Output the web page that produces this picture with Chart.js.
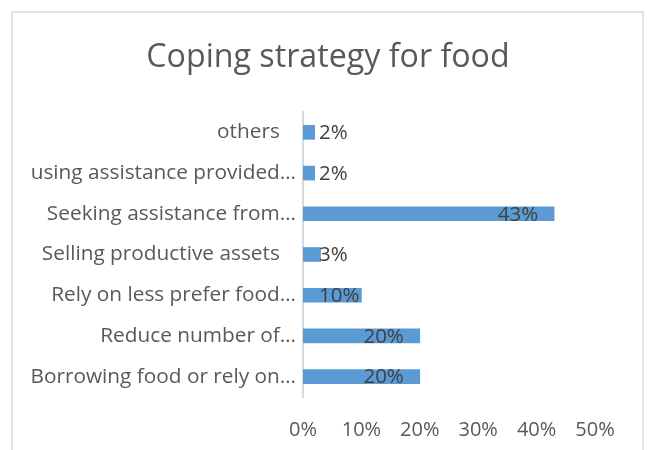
<!DOCTYPE html>
<html>
<head>
<meta charset="utf-8">
<script src="https://cdn.jsdelivr.net/npm/chart.js@4/dist/chart.umd.min.js"></script>
<style>
  html, body { margin: 0; padding: 0; background: #fff; }
  #wrap { width: 647px; height: 450px; }
</style>
</head>
<body>
<div id="wrap"><canvas id="copingChart" width="647" height="450"></canvas></div>
<script>
// Data
const chartTitle = 'Coping strategy for food';
const categories = [
    'others   ',
    'using assistance provided\u2026',
    'Seeking assistance from\u2026',
    'Selling productive assets   ',
    'Rely on less prefer food\u2026',
    'Reduce number of\u2026',
    'Borrowing food or rely on\u2026'
];
const shares = [2, 2, 43, 3, 10, 20, 20];
const xTicks = [0, 10, 20, 30, 40, 50];

const FONT = '"Open Sans", "Noto Sans", sans-serif';

// Frame and title (title centred on the frame, not the plot)
const framePlugin = {
    id: 'frame',
    beforeDraw(chart) {
        const ctx = chart.ctx;
        ctx.save();
        ctx.fillStyle = '#fff';
        ctx.fillRect(0, 0, chart.width, chart.height);
        ctx.strokeStyle = '#d9d9d9';
        ctx.lineWidth = 1.5;
        ctx.strokeRect(12, 12, 631, 460);
        ctx.font = '32.2px ' + FONT;
        ctx.fillStyle = '#595959';
        ctx.textAlign = 'center';
        ctx.textBaseline = 'alphabetic';
        ctx.fillText(chartTitle, 328, 67);
        ctx.restore();
    }
};

// Value labels next to / inside the bars
const valueLabels = {
    id: 'valueLabels',
    afterDatasetsDraw(chart) {
        const ctx = chart.ctx;
        const meta = chart.getDatasetMeta(0);
        const zero = chart.scales.x.getPixelForValue(0);
        ctx.save();
        ctx.font = '20.5px ' + FONT;
        ctx.fillStyle = '#404040';
        ctx.textBaseline = 'middle';
        meta.data.forEach((bar, i) => {
            const v = shares[i];
            if (v < 15) {
                ctx.textAlign = 'left';
                ctx.fillText(v + '%', zero + 16, bar.y + 1);
            } else {
                ctx.textAlign = 'right';
                ctx.fillText(v + '%', bar.x - 16, bar.y + 1);
            }
        });
        ctx.restore();
    }
};

const ctx = document.getElementById('copingChart').getContext('2d');
new Chart(ctx, {
    type: 'bar',
    data: {
        labels: categories,
        datasets: [{
            data: shares,
            backgroundColor: '#5b9bd5',
            barThickness: 14
        }]
    },
    options: {
        indexAxis: 'y',
        responsive: false,
        animation: false,
        layout: { padding: { left: 0, right: 52, top: 112, bottom: 0 } },
        plugins: {
            legend: { display: false },
            tooltip: { enabled: false },
            title: { display: false }
        },
        scales: {
            x: {
                min: 0,
                max: 50,
                afterBuildTicks(scale) {
                    scale.ticks = xTicks.map(v => ({ value: v }));
                },
                afterFit(scale) { scale.height = 53; },
                grid: { display: false },
                border: { display: false },
                ticks: {
                    padding: 13,
                    color: '#595959',
                    font: { family: FONT, size: 20 },
                    callback: v => v + '%'
                }
            },
            y: {
                afterFit(scale) { scale.width = 303; },
                grid: { color: 'transparent', drawTicks: false },
                border: { display: true, color: '#d9d9d9', width: 2 },
                ticks: {
                    autoSkip: false,
                    padding: 7,
                    color: '#595959',
                    font: { family: FONT, size: 20.8 }
                }
            }
        }
    },
    plugins: [framePlugin, valueLabels]
});
</script>
</body>
</html>
